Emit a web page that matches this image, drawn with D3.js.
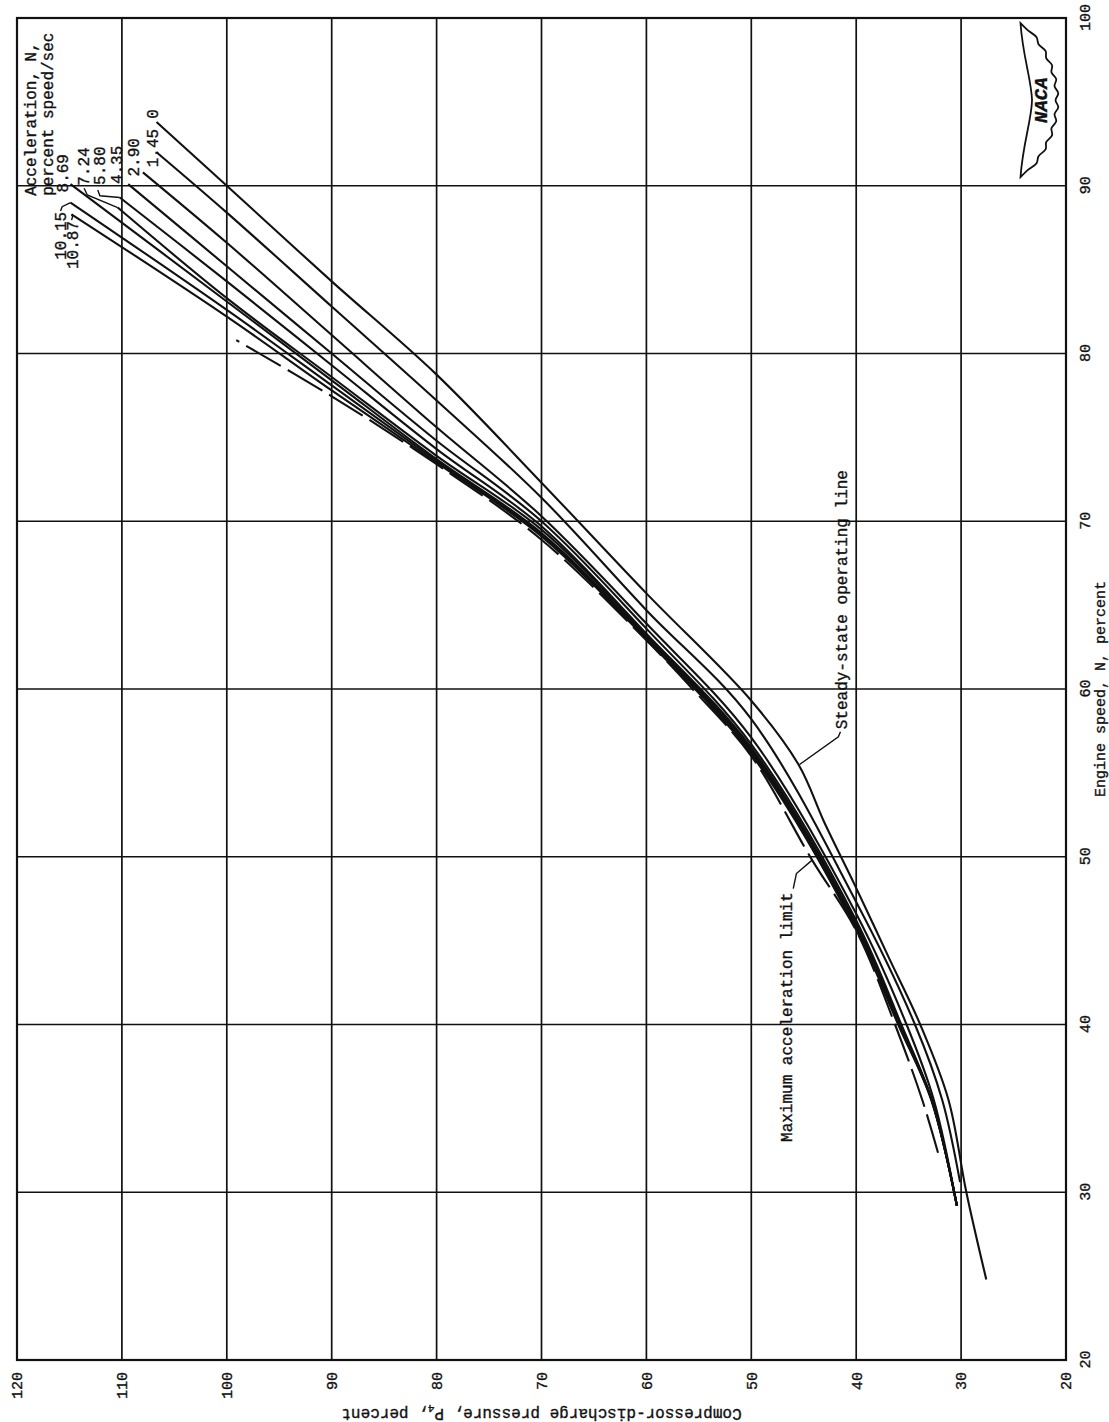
<!DOCTYPE html>
<html lang="en">
<head>
<meta charset="utf-8">
<title>Compressor-discharge pressure vs engine speed</title>
<script src="https://d3js.org/d3.v7.min.js"></script>
<style>
* { margin: 0; padding: 0; }
body { background: #fff; }
text { font-family: 'Liberation Mono', 'DejaVu Sans Mono', monospace; fill: #111; stroke: #111; stroke-width: 0.35px; }
</style>
</head>
<body>
<script>
// every curve is a list of [engine speed N %, compressor-discharge pressure P4 %]
let steady0   = [[24.8,27.6],[30,29.5],[35.5,31.2],[40,33.9],[44,36.9],[48.4,40.2],[52,43.0],[55.5,45.5],[59.3,50],[65.7,60],[72.3,70],[78.8,80.1],[84.3,90],[90,100],[93.8,106.7]];
let accel145  = [[30.6,30.1],[35.5,31.8],[40,34.4],[47.3,40],[58.2,50],[64.7,60],[71.4,70],[77.2,80],[82.8,90],[88.4,100],[92.0,106.7]];
let accel290  = [[29.2,30.4],[35.5,32.6],[40,35.2],[46.6,40],[57.1,50],[63.9,60],[70.3,70],[75.6,80],[81.1,90],[86.6,100],[90.8,108.0]];
let accel435  = [[29.2,30.4],[35.5,32.8],[40,35.7],[46.2,40],[56.7,50],[63.6,60],[70.0,70],[74.8,80],[80.0,90],[85.2,100],[90.1,109.4]];
let accel580  = [[29.2,30.4],[35.5,32.8],[40,35.8],[46.0,40],[56.5,50],[63.3,60],[69.7,70],[74.3,80],[79.3,90],[84.3,100],[89.3,110.2]];
let accel724  = [[29.2,30.4],[35.5,32.8],[40,35.9],[45.9,40],[56.4,50],[63.2,60],[69.5,70],[73.9,80],[78.6,90],[83.3,100],[88.7,110.4]];
let accel869  = [[29.2,30.4],[35.5,32.8],[40,35.9],[45.8,40],[56.3,50],[63.1,60],[69.3,70],[73.7,80],[78.4,90],[83.1,100],[90.1,114.9]];
let accel1015 = [[29.2,30.4],[35.5,32.8],[40,35.95],[45.7,40],[56.2,50],[63.0,60],[69.2,70],[73.6,80],[78.1,90],[82.6,100],[89.0,114.9]];
let accel1087 = [[29.2,30.4],[35.5,32.85],[40,36.0],[45.65,40],[56.1,50],[62.95,60],[69.1,70],[73.5,80],[77.8,90],[82.2,100],[88.3,114.8]];
let maxLimit  = [[32.35,32.2],[35.5,33.7],[40,36.3],[45.6,40],[49.8,44.2],[56.0,50],[60,55.6],[62.9,60],[68.9,70],[73.4,80],[77.45,90],[80.8,99.1]];

let accelCurves = [steady0, accel145, accel290, accel435, accel580, accel724, accel869, accel1015, accel1087];
let accelLabels = ["0", "1.45", "2.90", "4.35", "5.80", "7.24", "8.69", "10.15", "10.87"];
// where each label sits: [N at text start (or end), P at baseline], anchor
let labelSpots = [[94.0,106.6,"start"],[91.1,106.6,"start"],[90.55,108.4,"start"],[90.1,110.0,"start"],[90.05,111.6,"start"],
                  [90.0,113.1,"start"],[89.6,115.1,"start"],[88.45,115.3,"end"],[87.9,114.15,"end"]];
let legendTitle = ["Acceleration, N,", "percent speed/sec"];
let legendTitleSpots = [[89.4,118.2],[89.4,116.6]];
// small leader strokes from labels to curve ends
let leaders = [
  [[89.85,113.6],[89.45,113.3],[88.7,110.4]],           // 7.24
  [[89.75,112.3],[89.4,112.1],[89.3,110.2]],            // 5.80
  [[88.5,115.85],[88.75,115.7],[89.0,114.9]],           // 10.15
  [[87.95,114.8],[88.15,114.7],[88.3,114.8]],           // 10.87
  [[57.45,41.5],[57.15,41.7],[55.5,45.4]],              // steady-state
  [[48.1,46.0],[49.0,45.7],[49.8,44.2]]                 // max accel limit
];
let notes = [["Steady-state operating line", 57.6, 40.9], ["Maximum acceleration limit", 33.0, 46.1]];

let speedTicks = [20,30,40,50,60,70,80,90,100];
let pressureTicks = [20,30,40,50,60,70,80,90,100,110,120];

let pageW = 1109, pageH = 1422;
let frameLeft = 17, frameTop = 18, frameRight = 1066, frameBottom = 1360;
let plotW = frameBottom - frameTop;   // speed axis, runs up the page
let plotH = frameRight - frameLeft;   // pressure axis, runs across the page
let mono = "'Liberation Mono', 'DejaVu Sans Mono', monospace";

let xScale = d3.scaleLinear().domain([20,100]).range([0, plotW]);
let yScale = d3.scaleLinear().domain([20,120]).range([plotH, 0]);

let svg = d3.select("body").append("svg")
    .attr("width", pageW)
    .attr("height", pageH);

svg.append("rect").attr("width", pageW).attr("height", pageH).attr("fill", "#fff");

// the figure was printed sideways, so draw it normally and turn it a quarter turn
let chart = svg.append("g")
    .attr("transform", "translate(" + frameLeft + "," + frameBottom + ") rotate(-90)");

// grid
chart.append("g").selectAll("line")
  .data(speedTicks.slice(1, -1))
  .enter().append("line")
    .attr("x1", d => xScale(d)).attr("x2", d => xScale(d))
    .attr("y1", 0).attr("y2", plotH)
    .attr("stroke", "#111").attr("stroke-width", 1.7);

chart.append("g").selectAll("line")
  .data(pressureTicks.slice(1, -1))
  .enter().append("line")
    .attr("x1", 0).attr("x2", plotW)
    .attr("y1", d => yScale(d)).attr("y2", d => yScale(d))
    .attr("stroke", "#111").attr("stroke-width", 1.7);

chart.append("rect")
    .attr("width", plotW).attr("height", plotH)
    .attr("fill", "none").attr("stroke", "#111").attr("stroke-width", 2.2);

// axes
chart.append("g")
    .attr("transform", "translate(0," + plotH + ")")
    .call(d3.axisBottom(xScale).tickValues(speedTicks).tickSize(0).tickPadding(13))
    .call(g => g.select(".domain").remove())
    .attr("font-family", mono).attr("font-size", 15);

chart.append("g")
    .call(d3.axisLeft(yScale).tickValues(pressureTicks).tickSize(0).tickPadding(12))
    .call(g => g.select(".domain").remove())
    .attr("font-family", mono).attr("font-size", 15);

chart.append("text")
    .attr("x", xScale(60)).attr("y", plotH + 39)
    .attr("text-anchor", "middle").attr("font-size", 15)
    .text("Engine speed, N, percent");

let yTitle = chart.append("text")
    .attr("transform", "translate(-49," + yScale(70) + ") rotate(-90)")
    .attr("text-anchor", "middle").attr("font-size", 16);
yTitle.append("tspan").text("Compressor-discharge pressure, P");
yTitle.append("tspan").attr("font-size", 11).attr("dy", 4).text("4");
yTitle.append("tspan").attr("dy", -4).text(", percent");

// curves
let line = d3.line()
    .x(d => xScale(d[0]))
    .y(d => yScale(d[1]))
    .curve(d3.curveCatmullRom.alpha(0.5));

chart.append("g").selectAll("path")
  .data(accelCurves)
  .enter().append("path")
    .attr("d", line)
    .attr("fill", "none").attr("stroke", "#111").attr("stroke-width", 2.1);

chart.append("path")
    .attr("d", line(maxLimit))
    .attr("fill", "none").attr("stroke", "#111").attr("stroke-width", 2.1)
    .attr("stroke-dasharray", "40,8");

let straight = d3.line().x(d => xScale(d[0])).y(d => yScale(d[1]));
chart.append("g").selectAll("path")
  .data(leaders)
  .enter().append("path")
    .attr("d", straight)
    .attr("fill", "none").attr("stroke", "#111").attr("stroke-width", 1.4);

// labels
chart.append("g").selectAll("text")
  .data(accelLabels)
  .enter().append("text")
    .attr("x", (d, i) => xScale(labelSpots[i][0]))
    .attr("y", (d, i) => yScale(labelSpots[i][1]))
    .attr("text-anchor", (d, i) => labelSpots[i][2])
    .attr("font-size", 16)
    .text(d => d);

chart.append("g").selectAll("text")
  .data(legendTitle)
  .enter().append("text")
    .attr("x", (d, i) => xScale(legendTitleSpots[i][0]))
    .attr("y", (d, i) => yScale(legendTitleSpots[i][1]))
    .attr("font-size", 16)
    .text(d => d);

chart.append("g").selectAll("text")
  .data(notes)
  .enter().append("text")
    .attr("x", d => xScale(d[1]))
    .attr("y", d => yScale(d[2]))
    .attr("font-size", 16)
    .text(d => d[0]);

// NACA wings in the top corner cell
let logo = chart.append("g")
    .attr("transform", "translate(" + xScale(95.1) + "," + yScale(23) + ")");
let edge = [];
for (let a = 77; a >= -77; a -= 7) {
  let t = a / 77;
  let b = -14 + 36 * Math.pow(1 - t * t, 0.85) + ((Math.round(a / 7) % 2) ? 2 : -1);
  edge.push([a, b]);
}
edge[0] = [77, -14];
edge[edge.length - 1] = [-77, -14];
let wing = "M-77,-14 C-45,-12 -20,-3 0,-2.5 C20,-3 45,-12 77,-14 " +
  d3.line().curve(d3.curveCatmullRom)(edge).replace(/^M[^C]*/, "L77,-14 ") + "Z";
logo.append("path")
    .attr("d", wing)
    .attr("fill", "#fff").attr("stroke", "#111").attr("stroke-width", 1.8);
logo.append("text")
    .attr("x", 0).attr("y", 12.5)
    .attr("text-anchor", "middle")
    .attr("font-family", "'Liberation Sans', Arial, sans-serif")
    .attr("font-weight", "bold").attr("font-size", 19)
    .attr("font-style", "italic")
    .text("NACA");
</script>
</body>
</html>
